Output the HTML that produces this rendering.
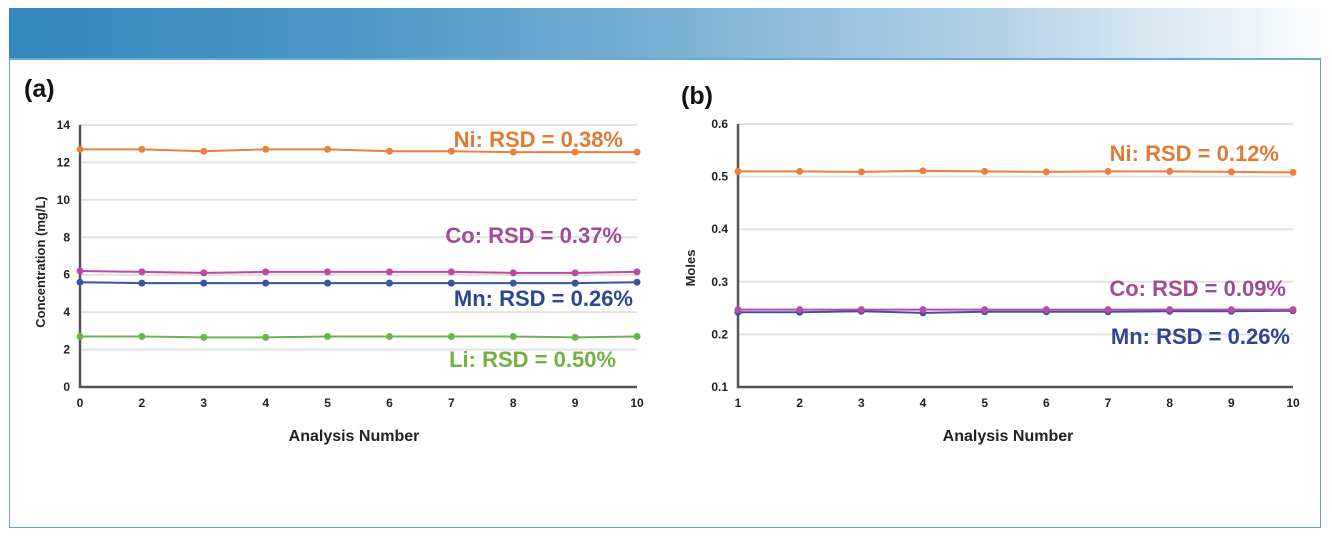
<!DOCTYPE html>
<html><head><meta charset="utf-8"><style>
body{margin:0;background:#fff;width:1332px;height:538px;overflow:hidden;font-family:"Liberation Sans",sans-serif}
#banner{position:absolute;left:9px;top:8px;width:1323px;height:50px;background:linear-gradient(90deg,#3487c0 0%,#4a96c6 25%,#7ab0d4 50%,#b5d2e6 75%,#ffffff 100%)}
#frame{position:absolute;left:9px;top:58px;width:1312px;height:470px;border:1px solid #5aa0d8;border-top:2px solid #6aaad6;box-sizing:border-box}
svg{position:absolute;left:0;top:0}
</style></head><body>
<div id="banner"></div>
<div id="frame"></div>
<svg id="svg" width="1332" height="538"></svg>
<script>
const catsA=["0","2","3","4","5","6","7","8","9","10"];
const niA=[12.7,12.7,12.6,12.7,12.7,12.6,12.6,12.55,12.55,12.55];
const coA=[6.2,6.15,6.1,6.15,6.15,6.15,6.15,6.1,6.1,6.15];
const mnA=[5.6,5.55,5.55,5.55,5.55,5.55,5.55,5.55,5.55,5.6];
const liA=[2.7,2.7,2.65,2.65,2.7,2.7,2.7,2.7,2.65,2.7];
const ticksA=[0,2,4,6,8,10,12,14];
const catsB=["1","2","3","4","5","6","7","8","9","10"];
const niB=[0.51,0.51,0.509,0.511,0.51,0.509,0.51,0.51,0.509,0.508];
const coB=[0.247,0.247,0.247,0.247,0.247,0.247,0.247,0.247,0.247,0.247];
const mnB=[0.242,0.242,0.244,0.241,0.243,0.243,0.243,0.244,0.244,0.245];
const ticksB=[0.1,0.2,0.3,0.4,0.5,0.6];
const tickLabB=["0.1","0.2","0.3","0.4","0.5","0.6"];

const NS="http://www.w3.org/2000/svg",svg=document.getElementById('svg');
function mk(t,a,txt){const e=document.createElementNS(NS,t);for(const k in a)e.setAttribute(k,a[k]);if(txt!==undefined)e.textContent=txt;svg.appendChild(e);return e;}
function chart(o){
 const X=i=>o.x0+(o.x1-o.x0)*i/(o.cats.length-1);
 const Y=v=>o.y1-(v-o.ymin)/(o.ymax-o.ymin)*(o.y1-o.y0);
 o.ticks.forEach((t,i)=>{
  const g=mk('line',{x1:o.x0,x2:o.x1,y1:Y(t),y2:Y(t),stroke:'#e2e2e2','stroke-width':2});
  
  const l=mk('text',{x:o.x0-10,y:Y(t)+4,'text-anchor':'end','font-size':12,'font-weight':'bold',fill:'#222'},o.tl[i]);
  
 });
 o.cats.forEach((c,i)=>{
  const l=mk('text',{x:X(i),y:o.y1+20,'text-anchor':'middle','font-size':12,'font-weight':'bold',fill:'#222'},c);
  
 });
 const ax=mk('path',{d:`M${o.x0} ${o.y0}V${o.y1}H${o.x1}`,fill:'none',stroke:'#555','stroke-width':2.5});
 
 o.series.forEach(s=>{
  const p=mk('polyline',{points:s.v.map((v,i)=>X(i)+','+Y(v)).join(' '),fill:'none',stroke:s.c,'stroke-width':2});
  
  s.v.forEach((v,i)=>{const d=mk('circle',{cx:X(i),cy:Y(v),r:3.5,fill:s.c});
   });
 });
}
chart({x0:80,x1:637,y0:125,y1:387,ymin:0,ymax:14,cats:catsA,ticks:ticksA,tl:ticksA.map(String),
 series:[{n:'ni',v:niA,c:'#ec8040'},{n:'co',v:coA,c:'#bb4aa6'},{n:'mn',v:mnA,c:'#3a52a8'},{n:'li',v:liA,c:'#6cb450'}]});
chart({x0:738,x1:1293,y0:124,y1:387,ymin:0.1,ymax:0.6,cats:catsB,ticks:ticksB,tl:tickLabB,
 series:[{n:'ni-b',v:niB,c:'#ec8040'},{n:'mn-b',v:mnB,c:'#3a52a8'},{n:'co-b',v:coB,c:'#bb4aa6'}]});
</script>
<svg width="1332" height="538" style="font-family:'Liberation Sans',sans-serif">
<text x="24" y="97" font-size="25" font-weight="bold" fill="#111">(a)</text>
<text x="681" y="104" font-size="25" font-weight="bold" fill="#111">(b)</text>
<text transform="translate(45,262) rotate(-90)" text-anchor="middle" font-size="13" font-weight="bold" fill="#222">Concentration (mg/L)</text>
<text transform="translate(695,268) rotate(-90)" text-anchor="middle" font-size="13" font-weight="bold" fill="#222">Moles</text>
<text x="354" y="441" text-anchor="middle" font-size="16" font-weight="bold" fill="#222">Analysis Number</text>
<text x="1008" y="441" text-anchor="middle" font-size="16" font-weight="bold" fill="#222">Analysis Number</text>
<g font-size="22" font-weight="bold" text-anchor="end">
<text x="623" y="147" fill="#e07b35">Ni: RSD = 0.38%</text>
<text x="622" y="243" fill="#a04b98">Co: RSD = 0.37%</text>
<text x="633" y="306" fill="#2f4596">Mn: RSD = 0.26%</text>
<text x="616" y="367" fill="#72b043">Li: RSD = 0.50%</text>
<text x="1279" y="161" fill="#e07b35">Ni: RSD = 0.12%</text>
<text x="1286" y="296" fill="#a04b98">Co: RSD = 0.09%</text>
<text x="1290" y="344" fill="#2f4596">Mn: RSD = 0.26%</text>
</g>
</svg>
</body></html>
